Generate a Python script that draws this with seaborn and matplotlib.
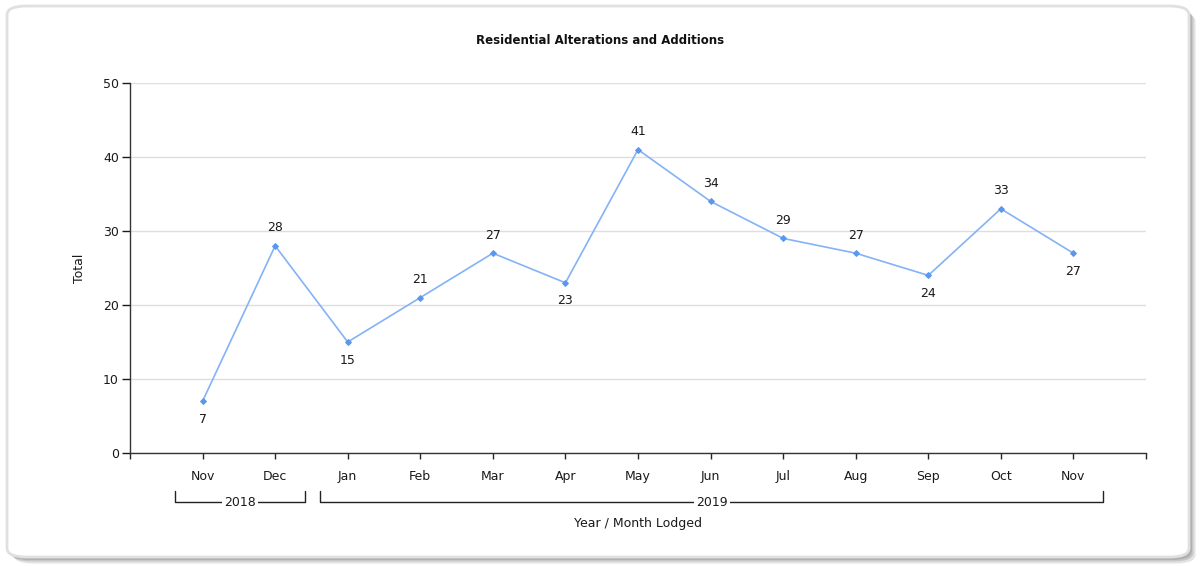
import matplotlib
matplotlib.use("Agg")
import matplotlib.pyplot as plt
import seaborn as sns
import pandas as pd
from matplotlib.patches import FancyBboxPatch

months = ["Nov", "Dec", "Jan", "Feb", "Mar", "Apr", "May", "Jun", "Jul", "Aug", "Sep", "Oct", "Nov"]
years = ["2018", "2018", "2019", "2019", "2019", "2019", "2019", "2019", "2019", "2019", "2019", "2019", "2019"]
totals = [7, 28, 15, 21, 27, 23, 41, 34, 29, 27, 24, 33, 27]
label_below = [True, False, True, False, False, True, False, False, False, False, True, False, True]

sns.set_theme(style="white")
plt.rcParams['font.family'] = ['DejaVu Sans']

W, H = 1200, 566
fig = plt.figure(figsize=(12, 5.66), dpi=100)
fig.patch.set_facecolor("white")

# framed, rounded background with soft shadow
x0p, y0p, x1p, y1p = 7, 6, 1189, 557
for i, (off, c) in enumerate([(6.5, "#e4e4e4"), (4.5, "#c8c8c8"), (3.0, "#b0b0b0")]):
    sh = FancyBboxPatch(((x0p + off) / W, 1 - (y1p + off) / H), (x1p - x0p) / W, (y1p - y0p) / H,
                        boxstyle="round,pad=0,rounding_size=0.016", transform=fig.transFigure,
                        facecolor=c, edgecolor="none", zorder=-4 + i * 0.1)
    fig.patches.append(sh)
frame = FancyBboxPatch((x0p / W, 1 - y1p / H), (x1p - x0p) / W, (y1p - y0p) / H,
                       boxstyle="round,pad=0,rounding_size=0.016", transform=fig.transFigure,
                       facecolor="white", edgecolor="#e0e0e0", linewidth=2, zorder=-2)
fig.patches.append(frame)

ax = fig.add_axes([130/1200, 1-453/566, (1146-130)/1200, (453-83)/566])
ax.set_facecolor("none")

df = pd.DataFrame({"pos": list(range(1, len(months) + 1)), "month": months, "year": years, "total": totals})

sns.lineplot(data=df, x="pos", y="total", ax=ax, color="#84b2f6", linewidth=1.2,
             marker="D", markersize=3, markerfacecolor="#5a97ee", markeredgecolor="#5a97ee")

for p, v, below in zip(df["pos"], df["total"], label_below):
    ax.annotate(str(v), (p, v), xytext=(0, -13 if below else 13), textcoords="offset points",
                ha="center", va="center", fontsize=9, color="#1a1a1a")

ax.set_xlim(0, len(months) + 1)
ax.set_ylim(0, 50)
ax.set_yticks([0, 10, 20, 30, 40, 50])
ax.set_xticks(list(range(0, len(months) + 2)))
ax.set_xticklabels([""] + months + [""], fontsize=9, color="#1a1a1a")
ax.tick_params(axis="y", labelsize=9, colors="#1a1a1a", length=6, width=1, direction="out", left=True, pad=2)
ax.tick_params(axis="x", length=4, width=1, direction="out", bottom=True, pad=8)
ax.yaxis.grid(True, color="#dedede", linewidth=1)
ax.xaxis.grid(False)
for s in ["top", "right"]:
    ax.spines[s].set_visible(False)
for s in ["left", "bottom"]:
    ax.spines[s].set_color("#333333")
    ax.spines[s].set_linewidth(1)
ax.set_xlabel("")
ax.set_ylabel("Total", fontsize=9, color="#1a1a1a", labelpad=12)

fig.text(0.5, 1-41/566, "Residential Alterations and Additions", ha="center", va="center",
         fontsize=8.5, fontweight="bold", color="#111111")

# year brackets
trans = ax.get_xaxis_transform()
ybr = (453 - 502) / (453 - 83)
ytop = (453 - 491) / (453 - 83)
year_groups = []
for y in dict.fromkeys(years):
    idx = [i + 1 for i, yy in enumerate(years) if yy == y]
    year_groups.append((y, min(idx), max(idx)))
for y, a, b in year_groups:
    xa, xb = a - 0.38, b + 0.41
    xc = (xa + xb) / 2
    ax.plot([xa, xa, xb, xb], [ytop, ybr, ybr, ytop], transform=trans, color="#222222",
            linewidth=1, clip_on=False)
    ax.text(xc, ybr, y, transform=trans, ha="center", va="center", fontsize=9, color="#1a1a1a",
            bbox=dict(facecolor="white", edgecolor="none", pad=1.5))

ax.text(0.5, (453 - 524) / (453 - 83), "Year / Month Lodged", transform=ax.transAxes,
        ha="center", va="center", fontsize=9, color="#1a1a1a")

fig.savefig("out.png", dpi=100)
